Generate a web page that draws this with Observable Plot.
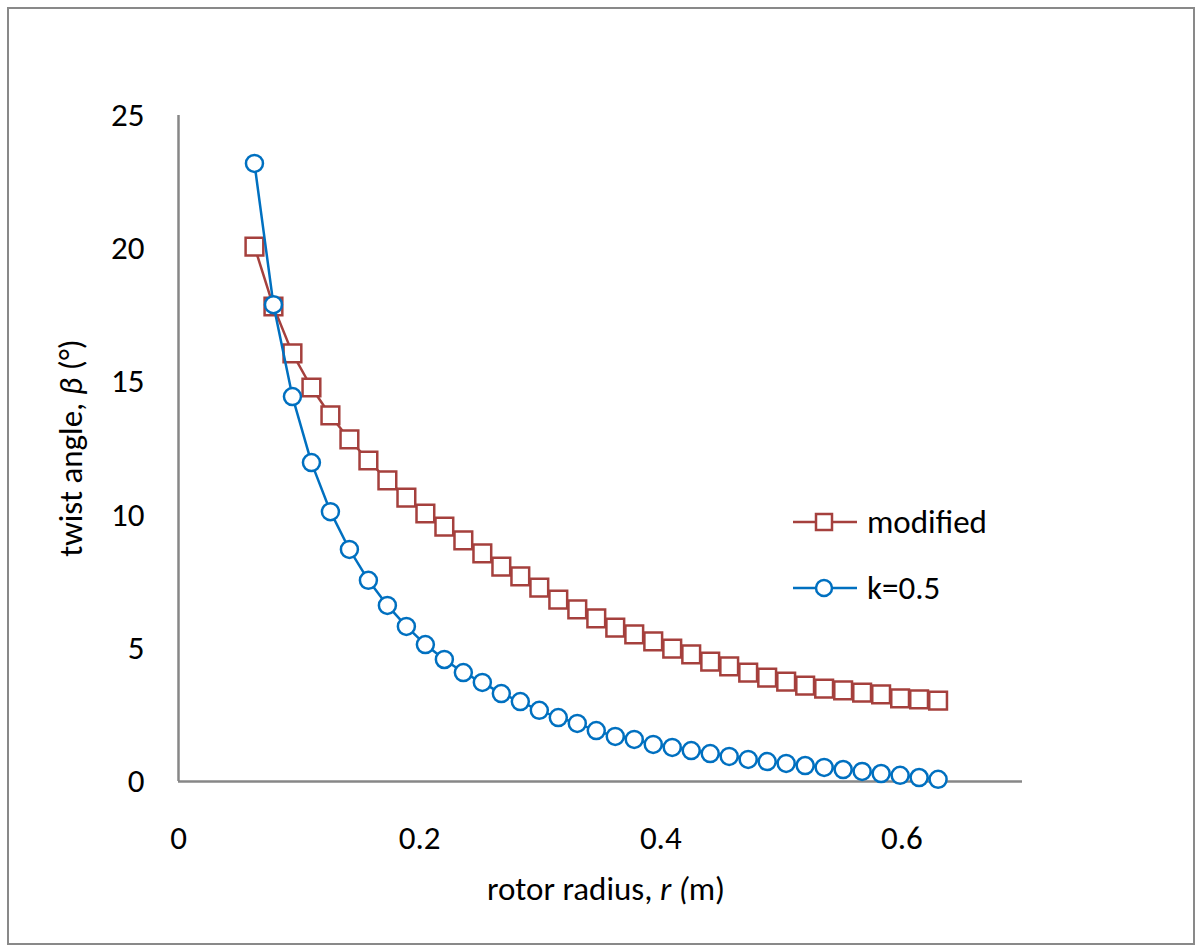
<!DOCTYPE html>
<html>
<head>
<meta charset="utf-8">
<script src="https://cdn.jsdelivr.net/npm/d3@7"></script>
<script src="https://cdn.jsdelivr.net/npm/@observablehq/plot@0.6"></script>
<style>
  html, body { margin: 0; padding: 0; background: #fff; }
  #wrap { position: relative; width: 1201px; height: 951px; font-family: Carlito, Lato, "Open Sans", sans-serif; }
  #border { position: absolute; left: 7px; top: 7px; width: 1184px; height: 934px; border: 2px solid #898989; box-sizing: content-box; pointer-events: none; }
  #chart { position: absolute; left: 0; top: 0; }
  .legend { position: absolute; left: 793px; font-size: 33px; color: #000; display: flex; align-items: center; }
  .legend svg { margin-right: 10px; }
</style>
</head>
<body>
<div id="wrap">
  <div id="chart"></div>
  <div id="border"></div>
</div>
<script>
const radius = [0.063, 0.07875, 0.0945, 0.11025, 0.126, 0.14175, 0.1575, 0.17325, 0.189, 0.20475,
  0.2205, 0.23625, 0.252, 0.26775, 0.2835, 0.29925, 0.315, 0.33075, 0.3465, 0.36225,
  0.378, 0.39375, 0.4095, 0.42525, 0.441, 0.45675, 0.4725, 0.48825, 0.504, 0.51975,
  0.5355, 0.55125, 0.567, 0.58275, 0.5985, 0.61425, 0.63];
const modified = [20.08, 17.83, 16.07, 14.79, 13.74, 12.84, 12.05, 11.30, 10.66, 10.06,
  9.57, 9.05, 8.56, 8.07, 7.70, 7.28, 6.83, 6.46, 6.12, 5.78,
  5.52, 5.26, 4.99, 4.77, 4.50, 4.32, 4.09, 3.90, 3.75, 3.60,
  3.49, 3.42, 3.34, 3.27, 3.12, 3.08, 3.04];
const k05 = [23.2, 17.9, 14.45, 11.97, 10.13, 8.71, 7.55, 6.61, 5.82, 5.14,
  4.58, 4.09, 3.72, 3.30, 3.00, 2.67, 2.40, 2.18, 1.91, 1.69,
  1.58, 1.39, 1.28, 1.16, 1.05, 0.94, 0.83, 0.75, 0.68, 0.60,
  0.53, 0.45, 0.38, 0.30, 0.23, 0.15, 0.08];
const xTicks = [0, 0.2, 0.4, 0.6];
const yTicks = [0, 5, 10, 15, 20, 25];
const seriesNames = ["modified", "k=0.5"];
const colors = {"modified": "#A5403D", "k=0.5": "#0070C0"};

const dataMod = radius.map((r, i) => ({r, v: modified[i]}));
const dataK = radius.map((r, i) => ({r, v: k05[i]}));

const font = 'Carlito, Lato, "Open Sans", sans-serif';
const fs = 33;

const plot = Plot.plot({
  width: 1201,
  height: 951,
  marginLeft: 178,
  marginRight: 179,
  marginTop: 115,
  marginBottom: 170,
  style: {fontFamily: font, fontSize: fs + "px", color: "#000", background: "transparent"},
  x: {domain: [0, 0.7], ticks: xTicks, tickFormat: d => String(d), label: null},
  y: {domain: [0, 25], ticks: yTicks, tickFormat: d => String(d), label: null},
  marks: [
    Plot.axisX({ticks: xTicks, tickSize: 0, tickPadding: 44, tickFormat: d => String(d), label: null, fontSize: fs}),
    Plot.axisY({ticks: yTicks, tickSize: 0, tickPadding: 34, tickFormat: d => String(d), label: null, fontSize: fs}),
    Plot.ruleY([0], {stroke: "#878787", strokeWidth: 2.5}),
    Plot.ruleX([0], {stroke: "#878787", strokeWidth: 2.5}),
    Plot.line(dataMod, {x: "r", y: "v", stroke: colors["modified"], strokeWidth: 2.5}),
    Plot.dot(dataMod, {x: "r", y: "v", symbol: "square", r: 10, stroke: colors["modified"], fill: "white", strokeWidth: 2.5}),
    Plot.line(dataK, {x: "r", y: "v", stroke: colors["k=0.5"], strokeWidth: 2.5}),
    Plot.dot(dataK, {x: "r", y: "v", symbol: "circle", r: 8.5, stroke: colors["k=0.5"], fill: "white", strokeWidth: 2.5})
  ]
});
document.getElementById("chart").appendChild(plot);

// axis titles as real text in the svg
const svg = d3.select(plot);
svg.append("text")
  .attr("x", 606).attr("y", 900)
  .attr("text-anchor", "middle")
  .style("font-family", font).style("font-size", fs + "px").attr("fill", "#000")
  .html('rotor radius, <tspan font-style="italic">r (</tspan>m)');
svg.append("text")
  .attr("transform", "translate(82,448) rotate(-90)")
  .attr("text-anchor", "middle")
  .style("font-family", font).style("font-size", fs + "px").attr("fill", "#000")
  .html('twist angle, <tspan font-style="italic">β</tspan> (°)');

// legend
const wrap = document.getElementById("wrap");
const legendTops = {"modified": 500, "k=0.5": 566};
seriesNames.forEach(name => {
  const div = document.createElement("div");
  div.className = "legend";
  div.style.top = legendTops[name] + "px";
  const c = colors[name];
  const marker = name === "modified"
    ? `<rect x="23" y="-8" width="16" height="16" fill="white" stroke="${c}" stroke-width="2.5"/>`
    : `<circle cx="31" cy="0" r="8" fill="white" stroke="${c}" stroke-width="2.5"/>`;
  div.innerHTML = `<svg width="64" height="44" viewBox="0 -22 64 44"><line x1="0" x2="64" y1="0" y2="0" stroke="${c}" stroke-width="2.5"/>${marker}</svg><span>${name}</span>`;
  wrap.appendChild(div);
});
</script>
</body>
</html>
